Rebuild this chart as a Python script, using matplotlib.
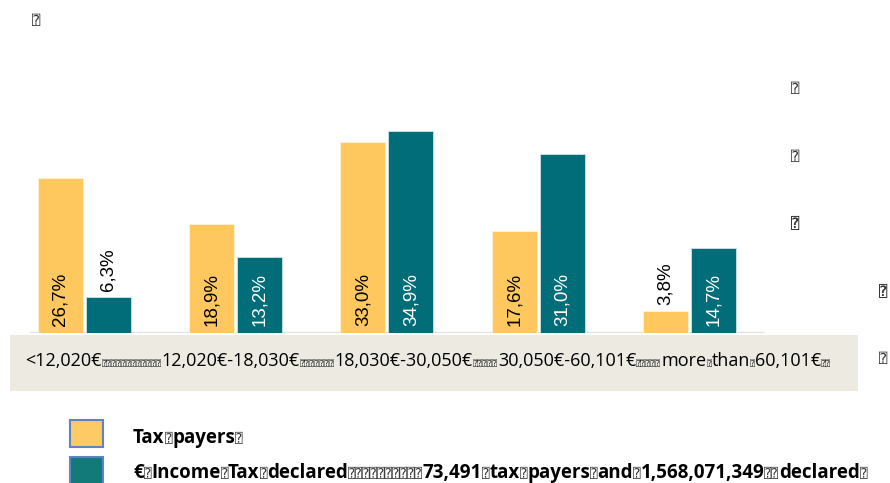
import matplotlib
matplotlib.use("Agg")
import matplotlib.pyplot as plt
from matplotlib.patches import Rectangle
from matplotlib.transforms import IdentityTransform

# Income brackets and the share of tax payers / declared income in each
categories = ["<12,020€", "12,020€-18,030€", "18,030€-30,050€",
              "30,050€-60,101€", "more than 60,101€"]
taxpayers = [26.7, 18.9, 33.0, 17.6, 3.8]
income_declared = [6.3, 13.2, 34.9, 31.0, 14.7]

YELLOW = "#FEC85E"
TEAL = "#006D79"
BAND = "#ECEAE1"
TOFU = "\u2370"

W, H = 890, 483
fig = plt.figure(figsize=(W / 100, H / 100), dpi=100)
fig.patch.set_facecolor("white")

# category band behind the labels
fig.patches.append(Rectangle((10 / W, 1 - 391 / H), 848 / W, 56 / H,
                             transform=fig.transFigure, facecolor=BAND,
                             edgecolor="none", zorder=0))

ax = fig.add_axes([30 / W, 1 - 333 / H, 735 / W, (333 - 124.6) / H])
ax.set_xlim(-0.36, 4.5)
ax.set_ylim(0, 36)
ax.axis("off")
ax.axhline(0, color="#E2E2E2", lw=2.5, zorder=1)

bw = 0.2975
gap = 0.02
xs = list(range(len(categories)))
b1 = ax.bar([x - gap / 2 - bw / 2 for x in xs], taxpayers, width=bw,
            color=YELLOW, edgecolor="#FFF3D6", linewidth=0.6, zorder=2)
b2 = ax.bar([x + gap / 2 + bw / 2 for x in xs], income_declared, width=bw,
            color=TEAL, edgecolor="#CFE3E5", linewidth=0.6, zorder=2)

lab_font = dict(family=["Liberation Sans Narrow", "Liberation Sans", "DejaVu Sans"],
                fontsize=13.5, rotation=90, ha="center", va="bottom", zorder=3)
px = 36 / (333 - 124.6)  # data units per pixel
for bars, vals, inner in ((b1, taxpayers, "black"), (b2, income_declared, "white")):
    for rect, v in zip(bars, vals):
        cx = rect.get_x() + rect.get_width() / 2
        txt = f"{v:.1f}".replace(".", ",") + "%"
        if v > 10:
            ax.text(cx, 7 * px, txt, color=inner, **lab_font)
        else:
            ax.text(cx, v + 6 * px, txt, color="black", **lab_font)

ident = IdentityTransform()
renderer = fig.canvas.get_renderer()


def run_line(parts, x0, ybase, size, weight, tofu_size):
    """Draw text pieces one after another in pixel coordinates."""
    x = x0
    y = H - ybase
    for s, is_box in parts:
        if is_box:
            t = fig.text(x, y, s, transform=ident, fontsize=tofu_size,
                         family=["DejaVu Sans", "DejaVu Sans Mono"],
                         color="#333333", va="baseline", ha="left")
        else:
            t = fig.text(x, y, s, transform=ident, fontsize=size,
                         family=["Open Sans", "DejaVu Sans"], fontweight=weight,
                         color="black", va="baseline", ha="left")
        bb = t.get_window_extent(renderer)
        x = bb.x1


# category labels row
cat_parts = [
    (categories[0], False), (TOFU * 12, True),
    (categories[1], False), (TOFU * 7, True),
    (categories[2], False), (TOFU * 5, True),
    (categories[3], False), (TOFU * 5, True),
    ("more", False), (TOFU, True), ("than", False), (TOFU, True),
    ("60,101€", False), (TOFU * 2, True),
]
run_line(cat_parts, 25, 366, 13, "normal", 6.0)

# legend swatches
fig.patches.append(Rectangle((70 / W, 1 - 447 / H), 33 / W, 27 / H,
                             transform=fig.transFigure, facecolor="#FDCA65",
                             edgecolor="#5B86C2", linewidth=1.5))
fig.patches.append(Rectangle((70 / W, 1 - 490 / H), 33 / W, 33 / H,
                             transform=fig.transFigure, facecolor="#127A78",
                             edgecolor="#5B86C2", linewidth=1.5))

run_line([("Tax", False), (TOFU, True), ("payers", False), (TOFU, True)],
         133, 443, 13.5, "bold", 9)
run_line([("€", False), (TOFU, True), ("Income", False), (TOFU, True),
          ("Tax", False), (TOFU, True), ("declared", False), (TOFU * 10, True),
          ("73,491", False), (TOFU, True), ("tax", False), (TOFU, True),
          ("payers", False), (TOFU, True), ("and", False), (TOFU, True),
          ("1,568,071,349", False), (TOFU * 2, True), ("declared", False),
          (TOFU, True)],
         133, 478, 13.5, "bold", 9)

# stray placeholder marks around the chart
for (x, y, w) in [(32, 25, "normal"), (791, 93, "normal"), (791, 161, "normal"),
                  (791, 228, "bold"), (879, 296, "bold"), (879, 363, "normal")]:
    fig.text(x, H - y, TOFU, transform=ident, fontsize=10, fontweight=w,
             family=["DejaVu Sans", "DejaVu Sans Mono"], color="#333333",
             va="baseline", ha="left")

fig.savefig("out.png", dpi=100, facecolor="white")
